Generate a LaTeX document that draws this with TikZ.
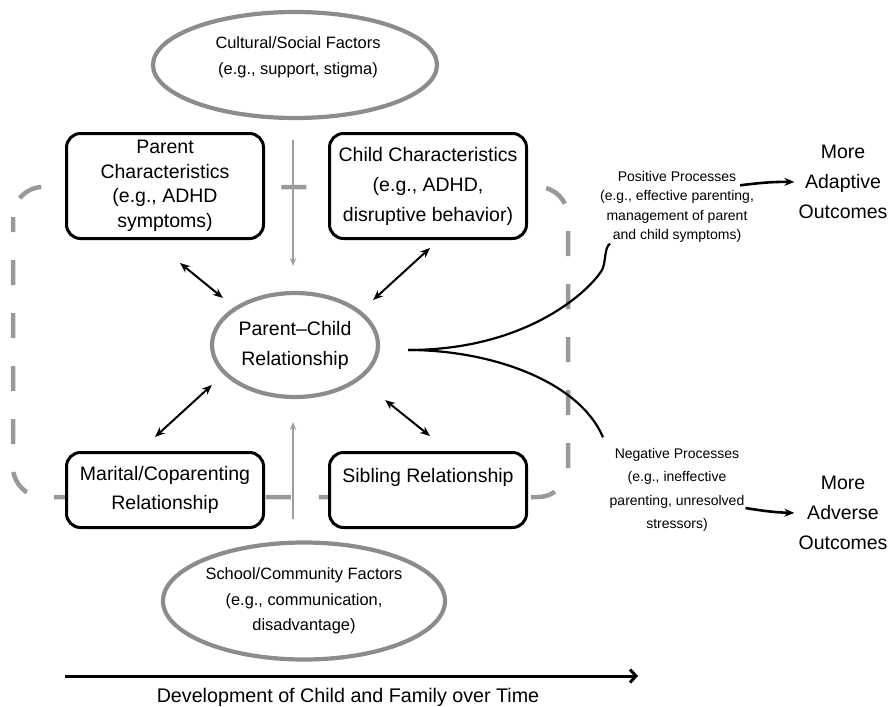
\documentclass[tikz,border=0pt]{standalone}
\usepackage{fontspec}
\setmainfont{Liberation Sans}
\usepackage{xcolor}
\usetikzlibrary{shapes.geometric,arrows.meta,calc}

\definecolor{framegray}{gray}{0.6}
\definecolor{ovalgray}{gray}{0.55}
\definecolor{flowgray}{gray}{0.62}

\begin{document}
\begin{tikzpicture}[x=1pt,y=-1pt,
  charbox/.style={draw, line width=3pt, rounded corners=14pt, fill=white,
    minimum width=197pt, minimum height=105pt, align=center, inner sep=2pt,
    font=\fontsize{19.5}{30}\selectfont},
  factor/.style={ellipse, draw=ovalgray, line width=4.2pt, fill=white,
    align=center, inner sep=0pt, font=\fontsize{16.4}{25.5}\selectfont},
  process/.style={align=center, inner sep=1pt, font=\fontsize{14}{19.3}\selectfont},
  outcome/.style={align=center, inner sep=1pt, font=\fontsize{19.5}{30}\selectfont},
  link/.style={{Stealth[length=10pt,width=8pt]}-{Stealth[length=10pt,width=8pt]}, line width=2pt},
  influence/.style={-{Stealth[length=8pt,width=6.5pt]}, draw=flowgray, line width=2.2pt},
  leads/.style={-{Stealth[length=10pt,width=8pt]}, line width=2.6pt},
  branch/.style={line width=2.2pt}]

  \useasboundingbox (0,0) rectangle (890,706);

  \draw[framegray, line width=4.5pt, dash pattern=on 25pt off 28pt, dash phase=10pt,
    rounded corners=30pt] (13,187) rectangle (568,497);

  \node[charbox, font=\fontsize{19.5}{24.5}\selectfont] (parent) at (165,186)
    {Parent\\Characteristics\\(e.g., ADHD\\symptoms)};
  \node[charbox] (child) at (428,186)
    {Child Characteristics\\(e.g., ADHD,\\disruptive behavior)};
  \node[charbox, minimum height=75pt, font=\fontsize{19.5}{29}\selectfont] (marital) at (165,490)
    {Marital/Coparenting\\Relationship};
  \node[charbox, minimum height=75pt, font=\fontsize{19.5}{29}\selectfont] (sibling) at (428,490)
    {Sibling Relationship\\\mbox{}};

  \node[factor, minimum width=284pt, minimum height=106pt] (cultural) at (295,65) {};
  \node[align=center, font=\fontsize{16.4}{26}\selectfont] (culturaltext) at (298,57)
    {Cultural/Social Factors\\(e.g., support, stigma)};
  \node[factor, minimum width=166pt, minimum height=104pt, font=\fontsize{19.5}{30}\selectfont]
    (pcr) at (295,345) {Parent–Child\\Relationship};
  \node[factor, minimum width=282pt, minimum height=117pt] (school) at (304,601)
    {School/Community Factors\\(e.g., communication,\\disadvantage)};

  \draw[influence] ($(cultural.south)+(-2,20)$) -- ($(pcr.north)+(-2,-25)$);
  \draw[influence] ($(school.north)+(-11,-21)$) -- ($(pcr.south)+(-2,23)$);

  \draw[link] ($(parent.south)+(15,23)$) -- ($(pcr.west)+(13,-47)$);
  \draw[link] ($(child.south)+(2,8)$) -- ($(pcr.east)+(-7,-45)$);
  \draw[link] ($(marital.north)+(-10,-14)$) -- ($(pcr.west)+(2,40)$);
  \draw[link] ($(sibling.north)+(2,-15)$) -- ($(pcr.east)+(5,55)$);

  \node[process] (positive) at (677,207)
    {Positive Processes\\(e.g., effective parenting,\\management of parent\\and child symptoms)};
  \node[process, font=\fontsize{14}{23.3}\selectfont] (negative) at (677,490)
    {Negative Processes\\(e.g., ineffective\\parenting, unresolved\\stressors)};
  \node[outcome] (adaptive) at (843,182) {More\\Adaptive\\Outcomes};
  \node[outcome] (adverse) at (843,513) {More\\Adverse\\Outcomes};

  \coordinate (fork) at ($(pcr.east)+(28,5)$);
  \draw[branch] (fork) .. controls +(120,0) and +(-12,20) .. (602,270)
    .. controls +(4,-7) and +(-6,4) .. ($(positive.south)+(-67,0)$);
  \draw[branch] (fork) .. controls +(85,0) and +(-23,-55) .. ($(negative.north)+(-74,-10)$);

  \draw[leads, shorten >=3pt] ($(positive.north east)+(-15,15)$) to[bend left=4] (adaptive.west);
  \draw[leads, shorten >=3pt] ($(negative.east)+(0,18)$) to[bend right=4] (adverse.west);

  \coordinate (tstart) at (65,676);
  \coordinate (tend) at (638,676);
  \draw[line width=3pt, -{Straight Barb[length=6pt,width=13pt]}] (tstart) -- (tend);
  \node[font=\fontsize{19.7}{24}\selectfont] (development) at (348,697)
    {Development of Child and Family over Time};

\end{tikzpicture}
\end{document}
